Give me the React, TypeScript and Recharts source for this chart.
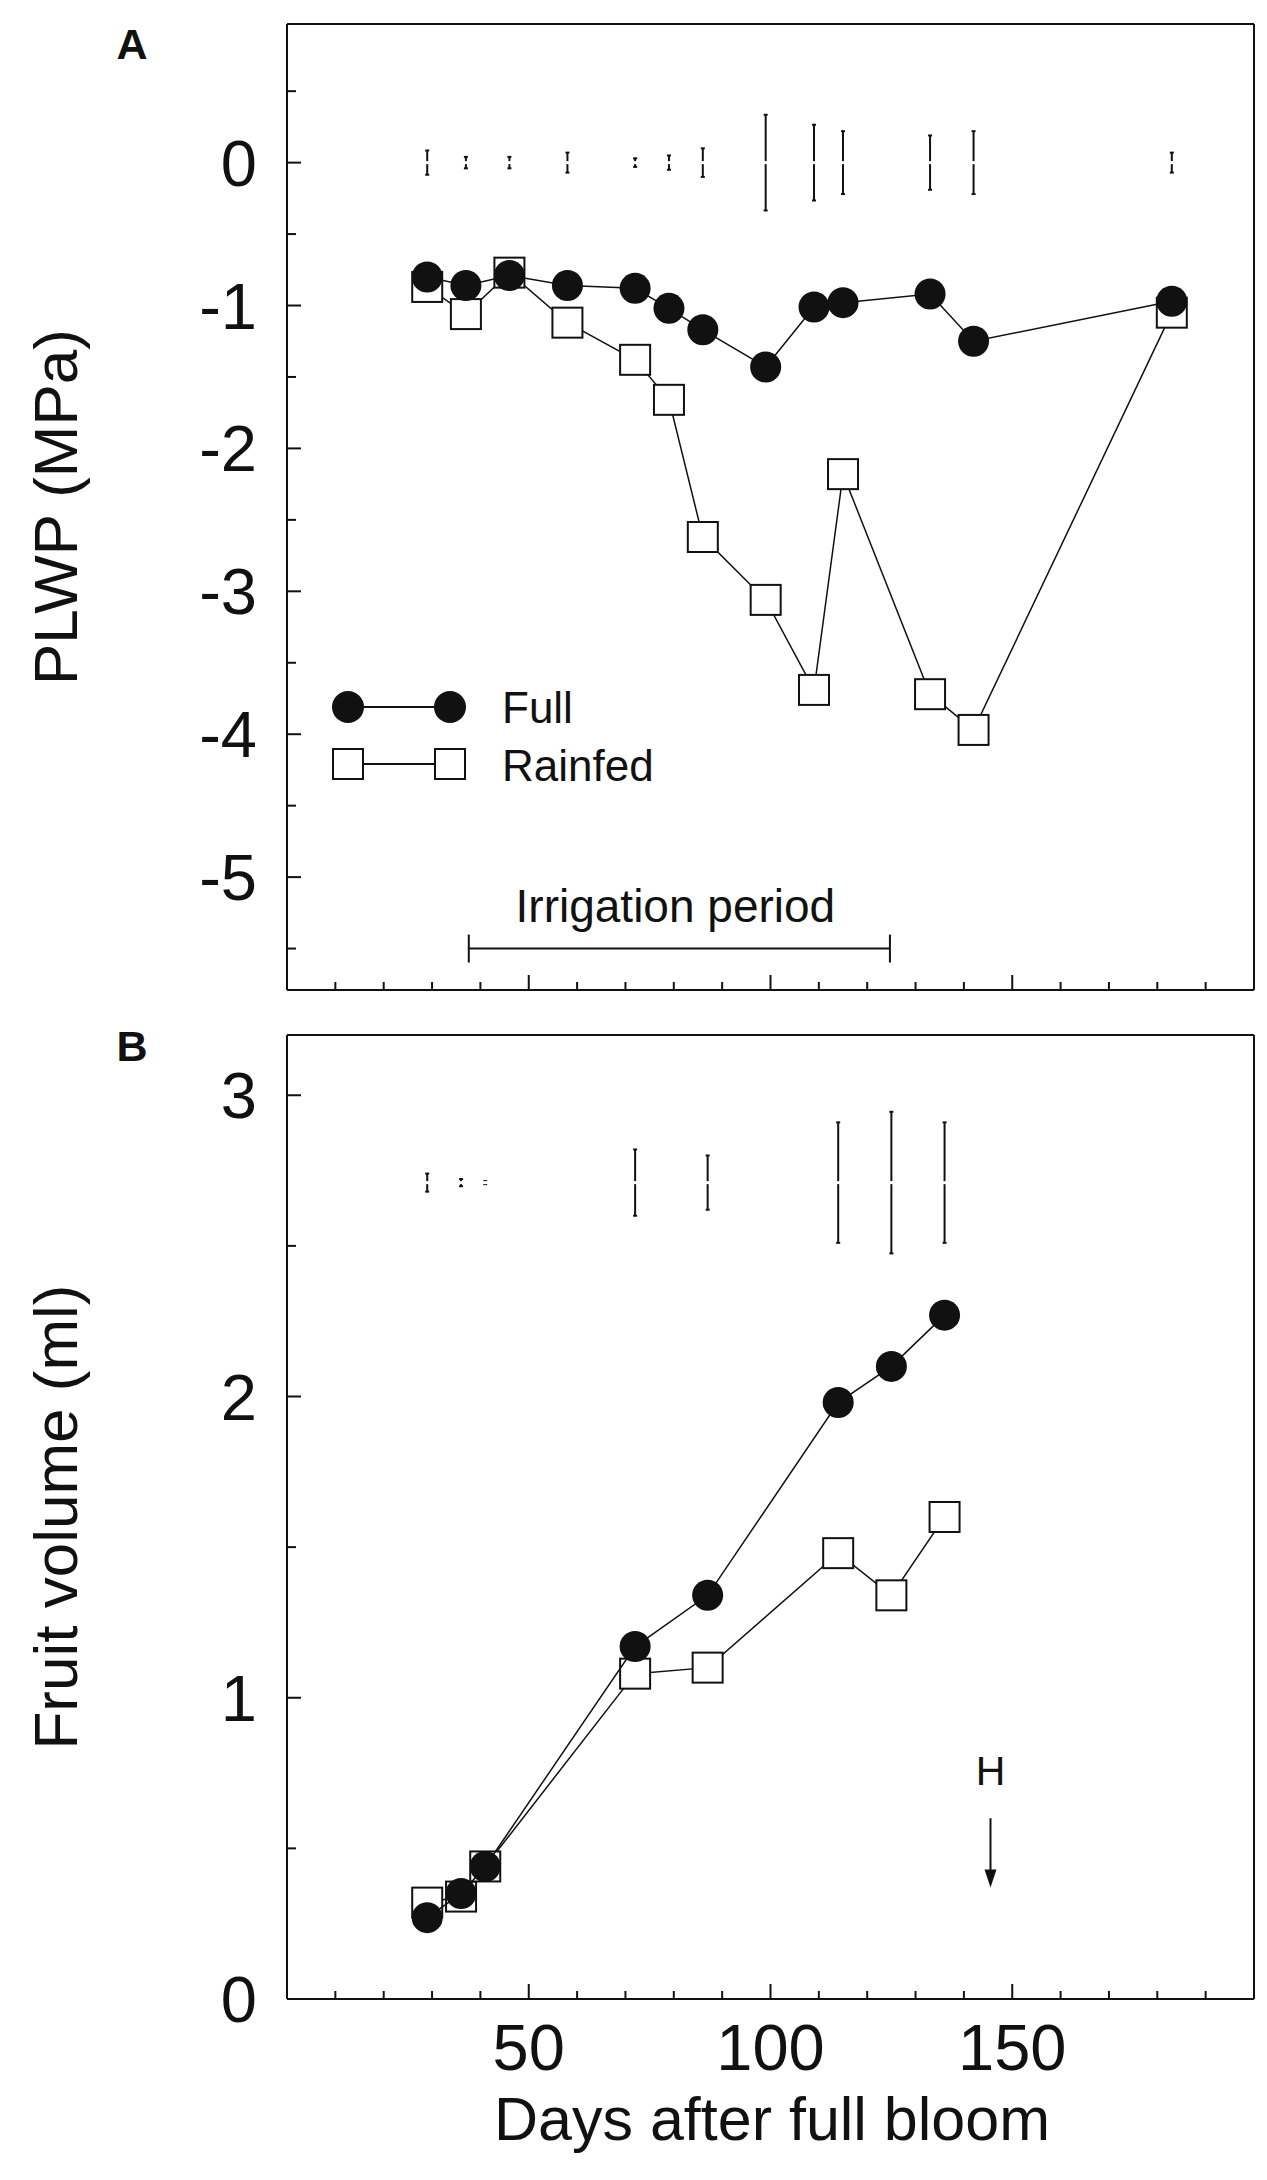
import React from 'react';
import { ScatterChart, Scatter, XAxis, YAxis, ErrorBar, ReferenceLine } from 'recharts';

// Panel A: predawn leaf water potential (MPa)
const PLWP_DAYS = [29, 37, 46, 58, 72, 79, 86, 99, 109, 115, 133, 142, 183];
const PLWP_FULL = [-0.8, -0.86, -0.79, -0.86, -0.88, -1.02, -1.17, -1.43, -1.01, -0.98, -0.92, -1.25, -0.97];
const PLWP_RAINFED = [-0.87, -1.06, -0.77, -1.12, -1.38, -1.66, -2.62, -3.06, -3.69, -2.18, -3.72, -3.97, -1.05];
const PLWP_LSD = [0.085, 0.04, 0.04, 0.07, 0.03, 0.05, 0.1, 0.335, 0.265, 0.22, 0.19, 0.22, 0.07];
const PLWP_LSD_LEVEL = 0;

// Panel B: fruit volume (ml)
const VOLUME_DAYS = [29, 36, 41, 72, 87, 114, 125, 136];
const VOLUME_FULL = [0.27, 0.35, 0.44, 1.17, 1.34, 1.98, 2.1, 2.27];
const VOLUME_RAINFED = [0.32, 0.34, 0.44, 1.08, 1.1, 1.48, 1.34, 1.6];
const VOLUME_LSD = [0.03, 0.012, 0.005, 0.11, 0.09, 0.2, 0.235, 0.2];
const VOLUME_LSD_LEVEL = 2.71;

// axes
const DAY_DOMAIN = [0, 200];
const DAY_MAJOR = [50, 100, 150];
const DAY_MINOR = [10, 20, 30, 40, 60, 70, 80, 90, 110, 120, 130, 140, 160, 170, 180, 190];
const PLWP_DOMAIN = [-5.79, 0.97];
const PLWP_MAJOR = [0, -1, -2, -3, -4, -5];
const PLWP_MINOR = [0.5, -0.5, -1.5, -2.5, -3.5, -4.5, -5.5];
const VOLUME_DOMAIN = [0, 3.2];
const VOLUME_MAJOR = [0, 1, 2, 3];
const VOLUME_MINOR = [0.5, 1.5, 2.5];

// annotations
const IRRIGATION = { start: 37.6, end: 124.7, level: -5.5, text: 'Irrigation period' };
const HARVEST = { day: 145.5, from: 0.6, to: 0.37, text: 'H' };
const SERIES = ['Full', 'Rainfed'];

const INK = '#111';
const FONT = '"Liberation Sans", Arial, sans-serif';

const points = (days: number[], values: number[]) => days.map((day, i) => ({ day, v: values[i] }));
const lsdPoints = (days: number[], lsd: number[], level: number) =>
  days.map((day, i) => ({ day, v: level, lsd: lsd[i] }));

const FullDot = (p: any) => <circle cx={p.cx} cy={p.cy} r={15.5} fill={INK} />;
const RainfedSquare = (p: any) => (
  <rect x={p.cx - 15} y={p.cy - 15} width={30} height={30} fill="#fff" stroke={INK} strokeWidth={2} />
);
// LSD bars: nothing at the centre except the small break seen in the original
const LsdGap = (p: any) => <rect x={p.cx - 3} y={p.cy - 1.5} width={6} height={3} fill="#fff" />;

const makeYTick = (major: number[]) => (p: any) => {
  const v = p.payload.value;
  const isMajor = major.includes(v);
  return (
    <g>
      <line x1={p.x} x2={p.x + (isMajor ? 14 : 9)} y1={p.y} y2={p.y} stroke={INK} strokeWidth={2} />
      {isMajor && (
        <text x={p.x - 30} y={p.y} dy="0.355em" textAnchor="end" fontSize={65} fontFamily={FONT} fill={INK}>
          {v}
        </text>
      )}
    </g>
  );
};

const makeXTick = (labels: boolean) => (p: any) => {
  const v = p.payload.value;
  const isMajor = DAY_MAJOR.includes(v);
  return (
    <g>
      <line x1={p.x} x2={p.x} y1={p.y} y2={p.y - (isMajor ? 15 : 8)} stroke={INK} strokeWidth={2} />
      {labels && isMajor && (
        <text x={p.x} y={p.y + 71} textAnchor="middle" fontSize={65} fontFamily={FONT} fill={INK}>
          {v}
        </text>
      )}
    </g>
  );
};

const IrrigationBar = (p: any) => (
  <g>
    <line x1={p.x1} x2={p.x2} y1={p.y1} y2={p.y2} stroke={INK} strokeWidth={2} />
    <line x1={p.x1} x2={p.x1} y1={p.y1 - 14} y2={p.y1 + 14} stroke={INK} strokeWidth={2} />
    <line x1={p.x2} x2={p.x2} y1={p.y2 - 14} y2={p.y2 + 14} stroke={INK} strokeWidth={2} />
    <text x={(p.x1 + p.x2) / 2 - 4} y={p.y1 - 27} textAnchor="middle" fontSize={46} fontFamily={FONT} fill={INK}>
      {IRRIGATION.text}
    </text>
  </g>
);

const HarvestArrow = (p: any) => (
  <g>
    <line x1={p.x1} x2={p.x2} y1={p.y1} y2={p.y2 - 14} stroke={INK} strokeWidth={2} />
    <polygon points={`${p.x2 - 6},${p.y2 - 18} ${p.x2 + 6},${p.y2 - 18} ${p.x2},${p.y2}`} fill={INK} />
    <text x={p.x1} y={p.y1 - 33} textAnchor="middle" fontSize={41} fontFamily={FONT} fill={INK}>
      {HARVEST.text}
    </text>
  </g>
);

const frameStyle = { stroke: INK, strokeWidth: 2 };

export default function App() {
  const xTicks = [...DAY_MINOR, ...DAY_MAJOR].sort((a, b) => a - b);
  const plwpTicks = [...PLWP_MINOR, ...PLWP_MAJOR].sort((a, b) => a - b);
  const volTicks = [...VOLUME_MINOR, ...VOLUME_MAJOR].sort((a, b) => a - b);

  return (
    <div style={{ position: 'absolute', left: 0, top: 0, width: 1267, height: 2180, background: '#fff', fontFamily: FONT }}>
      {/* Panel A */}
      <div style={{ position: 'absolute', left: 0, top: 0 }}>
        <ScatterChart width={1267} height={1000} margin={{ top: 24, right: 13, bottom: 0, left: 0 }}>
          <XAxis dataKey="day" type="number" domain={DAY_DOMAIN} ticks={xTicks} height={10}
            tickSize={0} tickMargin={0} tickLine={false} tick={makeXTick(false)}
            axisLine={frameStyle} allowDataOverflow interval={0} />
          <YAxis dataKey="v" type="number" domain={PLWP_DOMAIN} ticks={plwpTicks} width={287}
            tickSize={0} tickMargin={0} tickLine={false} tick={makeYTick(PLWP_MAJOR)}
            axisLine={frameStyle} allowDataOverflow interval={0} />
          <ReferenceLine y={PLWP_DOMAIN[1]} {...frameStyle} />
          <ReferenceLine x={DAY_DOMAIN[1]} {...frameStyle} />
          <ReferenceLine segment={[{ x: IRRIGATION.start, y: IRRIGATION.level }, { x: IRRIGATION.end, y: IRRIGATION.level }]}
            shape={IrrigationBar} />
          <Scatter data={lsdPoints(PLWP_DAYS, PLWP_LSD, PLWP_LSD_LEVEL)} shape={LsdGap} isAnimationActive={false}>
            <ErrorBar dataKey="lsd" direction="y" width={2} stroke={INK} strokeWidth={2} />
          </Scatter>
          <Scatter name={SERIES[1]} data={points(PLWP_DAYS, PLWP_RAINFED)} shape={RainfedSquare}
            line={{ stroke: INK, strokeWidth: 1.5 }} isAnimationActive={false} />
          <Scatter name={SERIES[0]} data={points(PLWP_DAYS, PLWP_FULL)} shape={FullDot}
            line={{ stroke: INK, strokeWidth: 1.5 }} isAnimationActive={false} />
        </ScatterChart>
      </div>

      {/* Panel B */}
      <div style={{ position: 'absolute', left: 0, top: 1000 }}>
        <ScatterChart width={1267} height={1180} margin={{ top: 35, right: 13, bottom: 0, left: 0 }}>
          <XAxis dataKey="day" type="number" domain={DAY_DOMAIN} ticks={xTicks} height={181}
            tickSize={0} tickMargin={0} tickLine={false} tick={makeXTick(true)}
            axisLine={frameStyle} allowDataOverflow interval={0} />
          <YAxis dataKey="v" type="number" domain={VOLUME_DOMAIN} ticks={volTicks} width={287}
            tickSize={0} tickMargin={0} tickLine={false} tick={makeYTick(VOLUME_MAJOR)}
            axisLine={frameStyle} allowDataOverflow interval={0} />
          <ReferenceLine y={VOLUME_DOMAIN[1]} {...frameStyle} />
          <ReferenceLine x={DAY_DOMAIN[1]} {...frameStyle} />
          <ReferenceLine segment={[{ x: HARVEST.day, y: HARVEST.from }, { x: HARVEST.day, y: HARVEST.to }]}
            shape={HarvestArrow} />
          <Scatter data={lsdPoints(VOLUME_DAYS, VOLUME_LSD, VOLUME_LSD_LEVEL)} shape={LsdGap} isAnimationActive={false}>
            <ErrorBar dataKey="lsd" direction="y" width={2} stroke={INK} strokeWidth={2} />
          </Scatter>
          <Scatter name={SERIES[1]} data={points(VOLUME_DAYS, VOLUME_RAINFED)} shape={RainfedSquare}
            line={{ stroke: INK, strokeWidth: 1.5 }} isAnimationActive={false} />
          <Scatter name={SERIES[0]} data={points(VOLUME_DAYS, VOLUME_FULL)} shape={FullDot}
            line={{ stroke: INK, strokeWidth: 1.5 }} isAnimationActive={false} />
        </ScatterChart>
      </div>

      {/* titles, panel letters and legend */}
      <svg width={1267} height={2180} style={{ position: 'absolute', left: 0, top: 0, pointerEvents: 'none' }}
        fontFamily={FONT} fill={INK}>
        <text x={132} y={59} textAnchor="middle" fontSize={43} fontWeight="bold">A</text>
        <text x={132} y={1061} textAnchor="middle" fontSize={43} fontWeight="bold">B</text>
        <text x={77} y={507} textAnchor="middle" fontSize={62} transform="rotate(-90 77 507)">PLWP (MPa)</text>
        <text x={77} y={1517} textAnchor="middle" fontSize={62} transform="rotate(-90 77 1517)">Fruit volume (ml)</text>
        <text x={772} y={2140} textAnchor="middle" fontSize={61}>Days after full bloom</text>

        <g>
          <line x1={348} x2={450} y1={707} y2={707} stroke={INK} strokeWidth={2} />
          <circle cx={348} cy={707} r={16} fill={INK} />
          <circle cx={450} cy={707} r={16} fill={INK} />
          <text x={502} y={723} fontSize={44}>{SERIES[0]}</text>
          <line x1={348} x2={450} y1={764} y2={764} stroke={INK} strokeWidth={2} />
          <rect x={333} y={749} width={30} height={30} fill="#fff" stroke={INK} strokeWidth={2} />
          <rect x={435} y={749} width={30} height={30} fill="#fff" stroke={INK} strokeWidth={2} />
          <text x={502} y={781} fontSize={44}>{SERIES[1]}</text>
        </g>
      </svg>
    </div>
  );
}
